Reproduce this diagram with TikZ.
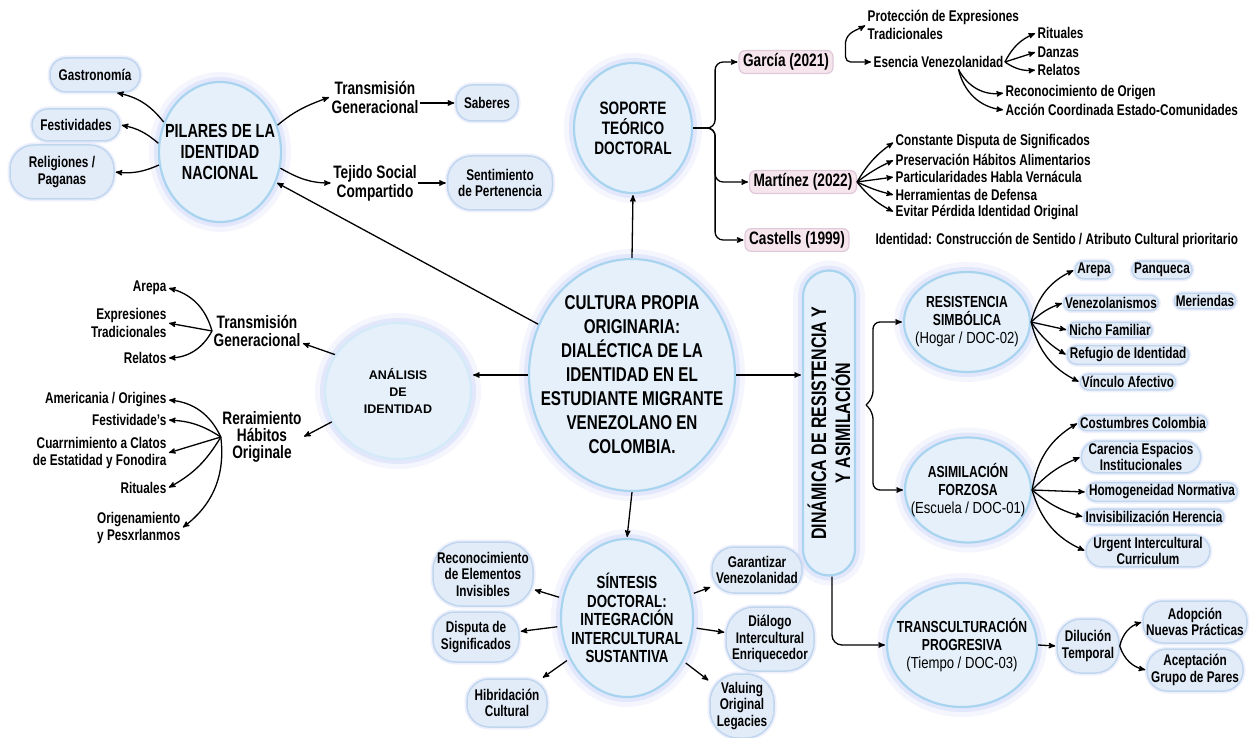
\documentclass[tikz,border=0pt]{standalone}
\usepackage{fontspec}
\setmainfont{Liberation Sans}[FakeStretch=0.82,BoldFeatures={FakeStretch=0.76}]
\newfontfamily\wideface{Liberation Sans}
\usetikzlibrary{positioning,arrows,shapes.geometric,shapes.misc}

\definecolor{bubble}{RGB}{229,240,250}
\definecolor{rim}{RGB}{168,212,240}
\definecolor{halo}{RGB}{186,196,244}
\definecolor{leaffill}{RGB}{226,236,248}
\definecolor{leafrim}{RGB}{192,213,238}
\definecolor{citefill}{RGB}{246,229,236}
\definecolor{citerim}{RGB}{222,200,218}

\newcommand{\fs}[2]{\fontsize{#1}{#2}\selectfont}

\begin{document}
\begin{tikzpicture}[x=1pt,y=-1pt,->,>=stealth',shorten >=1pt,line width=1.3pt,
  hub/.style={ellipse,fill=bubble,draw=rim,line width=2.2pt,align=center,inner sep=-60pt,
    preaction={draw=halo,line width=20pt,opacity=.15},
    preaction={draw=halo,line width=10pt,opacity=.3}},
  oval/.style={rectangle,rounded corners=16pt,fill=leaffill,draw=leafrim,line width=1.5pt,align=center,
    inner sep=0pt,font=\fs{15.5}{16.5}\bfseries,
    preaction={draw=halo,line width=5pt,opacity=.25}},
  pill/.style={rounded rectangle,fill=leaffill,draw=leafrim,line width=1.5pt,align=center,
    inner xsep=-1pt,inner ysep=2pt,font=\fs{15.5}{16.5}\bfseries,
    preaction={draw=halo,line width=5pt,opacity=.25}},
  cite/.style={rectangle,rounded corners=6pt,fill=citefill,draw=citerim,line width=1.2pt,
    inner xsep=4pt,inner ysep=3pt,font=\fs{18}{20}\bfseries},
  txt/.style={align=center,inner sep=1pt,font=\fs{15.5}{17.5}\bfseries}]
  \useasboundingbox (0,0) rectangle (1254,738);

  % hubs
  \node[hub,minimum width=206pt,minimum height=232pt,font=\fs{20}{24}\bfseries] (core) at (632,375)
    {CULTURA PROPIA\\ORIGINARIA:\\DIALÉCTICA DE LA\\IDENTIDAD EN EL\\ESTUDIANTE MIGRANTE\\VENEZOLANO EN\\COLOMBIA.};
  \node[hub,minimum width=118pt,minimum height=130pt,font=\fs{18}{20}\bfseries] (sop) at (633,128)
    {SOPORTE\\TEÓRICO\\DOCTORAL};
  \node[hub,minimum width=122pt,minimum height=140pt,font=\fs{19}{21}\bfseries] (pil) at (220,152)
    {PILARES DE LA\\IDENTIDAD\\NACIONAL};
  \node[hub,minimum width=146pt,minimum height=136pt,draw=white!50!rim,font=\wideface\bfseries\fs{12.5}{17}] (ana) at (398,391)
    {ANÁLISIS\\DE\\IDENTIDAD};
  \node[hub,minimum width=132pt,minimum height=158pt,font=\fs{17.5}{18.5}\bfseries] (sin) at (627,618)
    {SÍNTESIS\\DOCTORAL:\\INTEGRACIÓN\\INTERCULTURAL\\SUSTANTIVA};
  \node[hub,rounded rectangle,rotate=90,minimum width=305pt,minimum height=52pt,inner sep=0pt,font=\fs{21}{24}\bfseries] (din) at (829,423)
    {DINÁMICA DE RESISTENCIA Y\\Y ASIMILACIÓN};
  \node[hub,minimum width=126pt,minimum height=100pt,font=\fs{16}{18}] (res) at (967,322)
    {\textbf{RESISTENCIA}\\\textbf{SIMBÓLICA}\\(Hogar / DOC-02)};
  \node[hub,minimum width=126pt,minimum height=105pt,font=\fs{16}{18}] (asi) at (968,490)
    {\textbf{ASIMILACIÓN}\\\textbf{FORZOSA}\\(Escuela / DOC-01)};
  \node[hub,minimum width=150pt,minimum height=124pt,font=\fs{16}{18}] (tra) at (962,645)
    {\textbf{TRANSCULTURACIÓN}\\\textbf{PROGRESIVA}\\(Tiempo / DOC-03)};

  % soporte teorico
  \node[cite] (gar) at (786,62) {García (2021)};
  \node[cite] (mar) at (803,182) {Martínez (2022)};
  \node[cite] (cas) at (797,240) {Castells (1999)};
  \node[txt,align=left,anchor=west] (prot) at (866,25) {Protección de Expresiones\\Tradicionales};
  \node[txt,anchor=west] (esen) at (872,62) {Esencia Venezolanidad};
  \node[txt,anchor=west] (rit) at (1036,33) {Rituales};
  \node[txt,anchor=west] (dan) at (1036,52) {Danzas};
  \node[txt,anchor=west] (relt) at (1036,70) {Relatos};
  \node[txt,anchor=west] (reco) at (1004,93) {Reconocimiento de Origen};
  \node[txt,anchor=west] (acc) at (1004,110) {Acción Coordinada Estado-Comunidades};
  \node[txt,anchor=west] (cds) at (894,142) {Constante Disputa de Significados};
  \node[txt,anchor=west] (pha) at (894,160) {Preservación Hábitos Alimentarios};
  \node[txt,anchor=west] (phv) at (894,177) {Particularidades Habla Vernácula};
  \node[txt,anchor=west] (hdd) at (894,195) {Herramientas de Defensa};
  \node[txt,anchor=west] (epi) at (894,212) {Evitar Pérdida Identidad Original};
  \node[txt,anchor=west] (castxt) at (874,240) {Identidad: Construcción de Sentido / Atributo Cultural prioritario};

  % pilares
  \node[oval,minimum width=90pt,minimum height=34pt] (gas) at (95,75) {Gastronomía};
  \node[oval,minimum width=88pt,minimum height=32pt] (fest) at (76,125) {Festividades};
  \node[oval,minimum width=104pt,minimum height=54pt,rounded corners=24pt] (relg) at (62,172) {Religiones /\\Paganas};
  \node[txt,font=\fs{18}{19}\bfseries] (trg) at (375,97) {Transmisión\\Generacional};
  \node[txt,font=\fs{18}{19}\bfseries] (tej) at (375,183) {Tejido Social\\Compartido};
  \node[oval,minimum width=62pt,minimum height=36pt] (sab) at (487,103) {Saberes};
  \node[oval,minimum width=105pt,minimum height=54pt,rounded corners=24pt] (sent) at (500,183) {Sentimiento\\de Pertenencia};

  % analisis
  \node[txt,font=\fs{18}{18}\bfseries] (atr) at (257,331) {Transmisión\\Generacional};
  \node[txt,font=\fs{18}{17}\bfseries] (ara) at (262,437) {Reraimiento\\Hábitos\\Originale};
  \node[txt,anchor=east] (aa1) at (168,288) {Arepa};
  \node[txt,anchor=east,align=right] (aa2) at (168,323) {Expresiones\\Tradicionales};
  \node[txt,anchor=east] (aa3) at (168,358) {Relatos};
  \node[txt,anchor=east] (ab1) at (168,400) {Americania / Origines};
  \node[txt,anchor=east] (ab2) at (168,420) {Festividade's};
  \node[txt,anchor=east,align=right] (ab3) at (168,453) {Cuarrnimiento a Clatos\\de Estatidad y Fonodira};
  \node[txt,anchor=east] (ab4) at (168,488) {Rituales};
  \node[txt,anchor=east,align=left] (ab5) at (182,528) {Origenamiento\\y Pesxrlanmos};

  % sintesis
  \node[oval,minimum width=100pt,minimum height=64pt,rounded corners=28pt] (recel) at (483,574) {Reconocimiento\\de Elementos\\Invisibles};
  \node[oval,minimum width=86pt,minimum height=50pt,rounded corners=22pt] (dsig) at (476,637) {Disputa de\\Significados};
  \node[oval,minimum width=80pt,minimum height=48pt,rounded corners=22pt] (hib) at (507,703) {Hibridación\\Cultural};
  \node[oval,minimum width=90pt,minimum height=46pt,rounded corners=22pt] (gvz) at (757,570) {Garantizar\\Venezolanidad};
  \node[oval,minimum width=88pt,minimum height=64pt,rounded corners=28pt] (dial) at (770,639) {Diálogo\\Intercultural\\Enriquecedor};
  \node[oval,minimum width=64pt,minimum height=64pt,rounded corners=28pt] (valu) at (742,706) {Valuing\\Original\\Legacies};

  % resistencia / asimilacion / transculturacion
  \node[pill] (rarep) at (1094,270) {Arepa};
  \node[pill] (pan) at (1162,270) {Panqueca};
  \node[pill] (vzl) at (1111,303) {Venezolanismos};
  \node[pill] (mer) at (1205,301) {Meriendas};
  \node[pill] (nic) at (1110,330) {Nicho Familiar};
  \node[pill] (refu) at (1128,355) {Refugio de Identidad};
  \node[pill] (vin) at (1128,382) {Vínculo Afectivo};
  \node[pill] (cost) at (1143,423) {Costumbres Colombia};
  \node[pill] (care) at (1141,457) {Carencia Espacios\\Institucionales};
  \node[pill] (homo) at (1162,492) {Homogeneidad Normativa};
  \node[pill] (invi) at (1154,517) {Invisibilización Herencia};
  \node[pill] (urg) at (1148,551) {Urgent Intercultural\\Curriculum};
  \node[oval,minimum width=62pt,minimum height=54pt,rounded corners=24pt] (dilu) at (1088,646) {Dilución\\Temporal};
  \node[oval,minimum width=104pt,minimum height=42pt,rounded corners=20pt] (adop) at (1195,622) {Adopción\\Nuevas Prácticas};
  \node[oval,minimum width=96pt,minimum height=42pt,rounded corners=20pt] (acep) at (1195,670) {Aceptación\\Grupo de Pares};

  % main arrows
  \draw (core.north) -- (sop.south);
  \draw (core) -- (pil);
  \draw (core.west) -- (core.west -| ana.east);
  \draw (core.east) -- (core.east -| din.north);
  \draw (core.south) -- (sin.north);

  \draw[rounded corners=8pt] (sop.east) -- ++(22,0) |- (gar.west);
  \draw[rounded corners=8pt] (sop.east) -- ++(22,0) |- (mar.west);
  \draw[rounded corners=8pt] (sop.east) -- ++(22,0) |- (cas.west);

  \draw[rounded corners=5pt] ([xshift=12pt,yshift=20pt]gar.east) |- (esen.west);
  \draw ([xshift=12pt,yshift=20pt]gar.east) to[out=80,in=210] (prot.west);
  \path (esen.east) edge[bend left=20] (rit.west)
                    edge (dan.west)
                    edge[bend right=20] (relt.west)
        ([xshift=20pt]esen.south) edge[bend right=35] (reco.west)
                    edge[bend right=35] (acc.west);
  \path (mar.east) edge[bend left=12] (cds.west)
                   edge[bend left=6] (pha.west)
                   edge (phv.west)
                   edge[bend right=6] (hdd.west)
                   edge[bend right=12] (epi.west);

  \path (pil.152) edge[bend right=20] (gas.-40)
        (pil.172) edge[bend right=15] (fest.east)
        (pil.192) edge[bend left=15] (relg.east);
  \draw (pil.25) to[out=40,in=200] (trg.west);
  \draw (pil.-15) to[out=-30,in=180] (tej.west);
  \draw (trg.east |- sab) -- (sab.west);
  \draw (tej.east |- sent) -- (sent.west);

  \draw (ana.150) -- (atr.-15);
  \draw (ana.205) -- (ara.east);
  \path (atr.west) edge[bend right=30] (aa1.east)
                   edge (aa2.east)
                   edge[bend left=30] (aa3.east);
  \path (ara.west) edge[bend right=30] (ab1.east)
                   edge[bend right=15] (ab2.east)
                   edge (ab3.east)
                   edge[bend left=15] (ab4.east)
                   edge[bend left=30] (ab5.east);

  \path[shorten <=3pt] (sin) edge (recel) edge (dsig) edge (hib)
                              edge (gvz) edge (dial) edge (valu);

  \coordinate (fork) at (866,405);
  \draw[rounded corners=7pt] (fork) -- ++(7,-7) |- (res.west);
  \draw[rounded corners=7pt] (fork) -- ++(7,7) |- (asi.west);
  \draw[rounded corners=10pt] ([xshift=3pt]din.west) |- (tra.west);

  \path (res.east) edge[bend left=25] (rarep.west)
                   edge[bend left=12] (vzl.west)
                   edge (nic.west)
                   edge[bend right=12] (refu.west)
                   edge[bend right=25] (vin.west);
  \path (asi.east) edge[bend left=25] (cost.west)
                   edge[bend left=12] (care.west)
                   edge (homo.west)
                   edge[bend right=12] (invi.west)
                   edge[bend right=25] (urg.west);
  \draw (tra.east) -- (dilu.west);
  \path (dilu.east) edge[bend left=30] (adop.west)
                    edge[bend right=30] (acep.west);
\end{tikzpicture}
\end{document}
